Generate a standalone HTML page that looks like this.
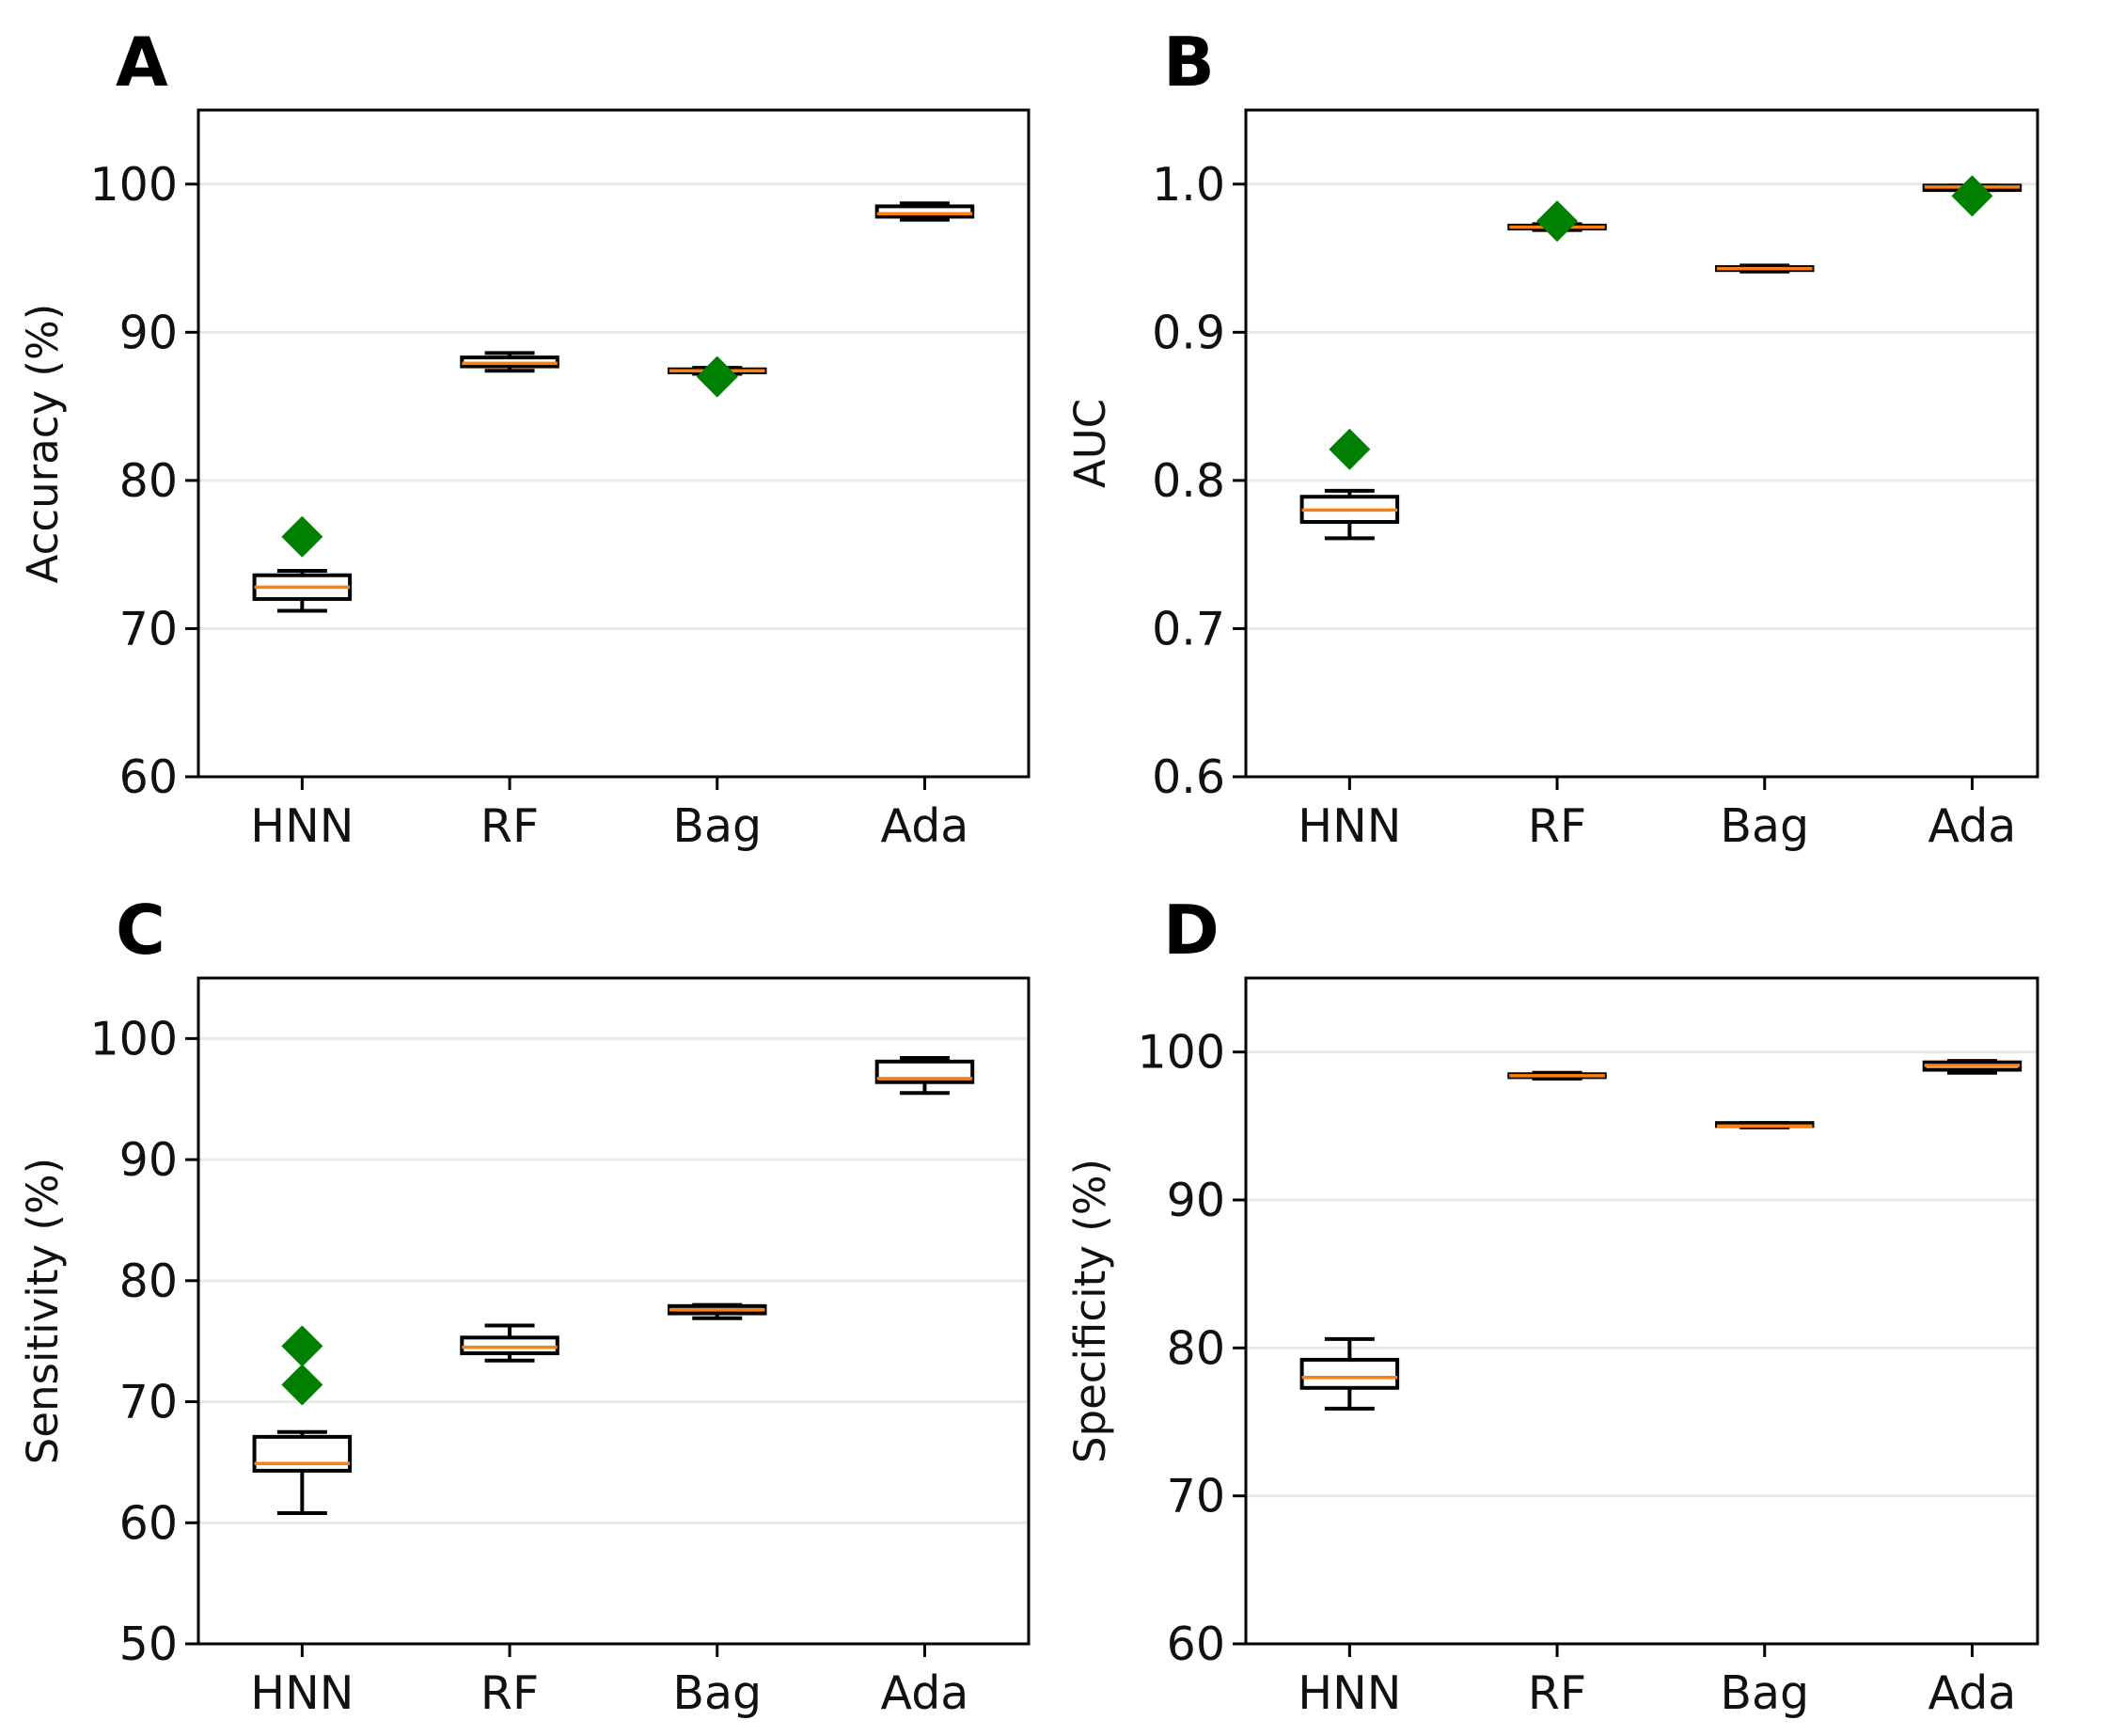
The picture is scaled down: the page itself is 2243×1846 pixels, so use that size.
<!DOCTYPE html>
<html><head><meta charset="utf-8">
<style>
html,body{margin:0;padding:0;background:#fff;}
svg{display:block;font-family:"DejaVu Sans","Liberation Sans",sans-serif;}
</style></head>
<body>
<svg id="fig" width="2243" height="1846" viewBox="0 0 2243 1846" xmlns="http://www.w3.org/2000/svg"></svg>
<script>
const categories = ["HNN","RF","Bag","Ada"];
// [whislo, q1, med, q3, whishi]
const accStats = [[71.2,72.0,72.8,73.6,73.9],[87.4,87.7,87.9,88.3,88.6],[87.2,87.3,87.4,87.5,87.6],[97.6,97.8,98.0,98.5,98.7]];
const accFliers = [[76.2],[],[87.0],[]];
const aucStats = [[0.761,0.772,0.780,0.789,0.793],[0.969,0.970,0.971,0.972,0.973],[0.941,0.942,0.943,0.944,0.945],[0.996,0.996,0.998,0.999,0.999]];
const aucFliers = [[0.821],[0.975],[],[0.992]];
const senStats = [[60.8,64.3,64.9,67.1,67.5],[73.4,74.0,74.5,75.3,76.3],[76.9,77.3,77.6,77.9,78.0],[95.5,96.4,96.7,98.1,98.4]];
const senFliers = [[74.6,71.4],[],[],[]];
const speStats = [[75.9,77.3,78.0,79.2,80.6],[98.2,98.3,98.4,98.5,98.6],[94.9,95.0,95.0,95.2,95.2],[98.6,98.8,99.1,99.3,99.4]];
const speFliers = [[],[],[],[]];
const pctTicks = [60,70,80,90,100];
const senTicks = [50,60,70,80,90,100];
const aucTicks = [0.6,0.7,0.8,0.9,1.0];
const aucTickLabels = ["0.6","0.7","0.8","0.9","1.0"];

const NS="http://www.w3.org/2000/svg";
const svg=document.getElementById('fig');
function mk(tag,attrs,parent){const e=document.createElementNS(NS,tag);for(const k in attrs)e.setAttribute(k,attrs[k]);(parent||svg).appendChild(e);return e;}

function panel(o){
  const g=mk('g',{});
  
  
  const L=o.x0,R=o.x1,T=o.y0,B=o.y1;
  const ys=v=>B-(v-o.ymin)/(o.ymax-o.ymin)*(B-T);
  const unit=220.7;
  const xs=i=>L+(i+0.5)*unit;
  o.ticks.forEach((t,i)=>{
    const gl=mk('line',{x1:L,x2:R,y1:ys(t),y2:ys(t),stroke:'#e9e9e9','stroke-width':3},g);
    
    
  });
  categories.forEach((c,i)=>{
    const s=o.stats[i],cx=xs(i),hw=unit*0.23,cw=unit*0.12;
    const bg=mk('g',{},g);
    
    
    const st={stroke:'#000','stroke-width':4,fill:'none'};
    mk('line',Object.assign({x1:cx,x2:cx,y1:ys(s[0]),y2:ys(s[1])},st),bg);
    mk('line',Object.assign({x1:cx,x2:cx,y1:ys(s[3]),y2:ys(s[4])},st),bg);
    mk('line',Object.assign({x1:cx-cw,x2:cx+cw,y1:ys(s[0]),y2:ys(s[0])},st),bg);
    mk('line',Object.assign({x1:cx-cw,x2:cx+cw,y1:ys(s[4]),y2:ys(s[4])},st),bg);
    mk('rect',Object.assign({x:cx-hw,y:ys(s[3]),width:2*hw,height:Math.max(0.5,ys(s[1])-ys(s[3]))},st),bg);
    const m=mk('line',{x1:cx-hw,x2:cx+hw,y1:ys(s[2]),y2:ys(s[2]),stroke:'#ff7f0e','stroke-width':3.5},bg);
    
    
    o.fliers[i].forEach(f=>{
      const y=ys(f),d=22;
      const p=mk('polygon',{points:`${cx},${y-d} ${cx+d},${y} ${cx},${y+d} ${cx-d},${y}`,fill:'#008000'},g);
      
      
    });
  });
  const fr=mk('rect',{x:L,y:T,width:R-L,height:B-T,fill:'none',stroke:'#000','stroke-width':3},g);
  
  
  o.ticks.forEach((t,i)=>{
    mk('line',{x1:L-14,x2:L,y1:ys(t),y2:ys(t),stroke:'#000','stroke-width':3},g);
    const tx=mk('text',{x:L-22,y:ys(t)+17,'text-anchor':'end','font-size':49,fill:'#111'},g);
    tx.textContent=o.tickLabels?o.tickLabels[i]:String(t);
    
    
  });
  categories.forEach((c,i)=>{
    mk('line',{x1:xs(i),x2:xs(i),y1:B,y2:B+14,stroke:'#000','stroke-width':3},g);
    const tx=mk('text',{x:xs(i),y:B+69,'text-anchor':'middle','font-size':49,fill:'#111'},g);
    tx.textContent=c;
    
    
  });
  const yl=mk('text',{x:0,y:0,'text-anchor':'middle','font-size':45,fill:'#111',transform:`translate(${L-150},${(T+B)/2}) rotate(-90)`},g);
  yl.textContent=o.ylabel;
  
  
  const lt=mk('text',{x:L-88,y:T-26,'font-size':72,'font-weight':'bold',fill:'#000'},g);
  lt.textContent=o.letter;
  
  
}
panel({letter:'A',x0:211,x1:1094,y0:117,y1:826,ymin:60,ymax:105,ticks:pctTicks,stats:accStats,fliers:accFliers,ylabel:'Accuracy (%)'});
panel({letter:'B',x0:1325,x1:2167,y0:117,y1:826,ymin:0.6,ymax:1.05,ticks:aucTicks,tickLabels:aucTickLabels,stats:aucStats,fliers:aucFliers,ylabel:'AUC'});
panel({letter:'C',x0:211,x1:1094,y0:1040,y1:1748,ymin:50,ymax:105,ticks:senTicks,stats:senStats,fliers:senFliers,ylabel:'Sensitivity (%)'});
panel({letter:'D',x0:1325,x1:2167,y0:1040,y1:1748,ymin:60,ymax:105,ticks:pctTicks,stats:speStats,fliers:speFliers,ylabel:'Specificity (%)'});
</script>
</body></html>
